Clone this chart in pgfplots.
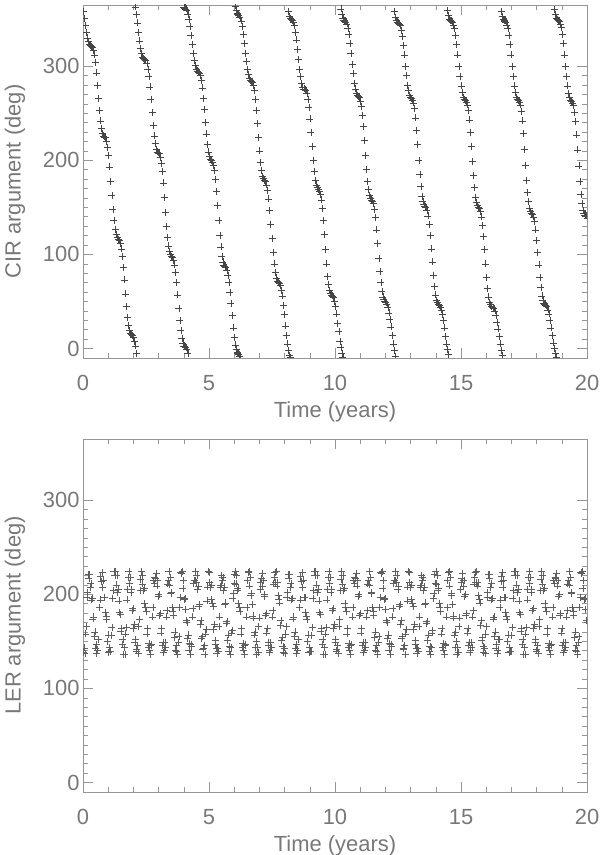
\documentclass[border=0pt]{standalone}
\usepackage{pgfplots}
\pgfplotsset{compat=1.18}
\usepackage{fontspec}
\setmainfont{Liberation Sans}
\definecolor{axgray}{RGB}{150,150,150}
\definecolor{txtgray}{RGB}{120,120,120}
\definecolor{mk}{RGB}{70,70,70}
\definecolor{mkb}{RGB}{95,95,95}
\pgfplotsset{
  idl/.style={
    scale only axis, width=504bp, height=353bp,
    xmin=0, xmax=20, ymin=-10, ymax=365,
    xtick={0,5,10,15,20}, ytick={0,100,200,300},
    minor x tick num=4, minor y tick num=9,
    tick align=inside,
    major tick length=10bp, minor tick length=5bp,
    axis line style={axgray, line width=0.6bp},
    tick style={axgray, line width=0.6bp},
    tick label style={font=\fontsize{22}{26}\selectfont, text=txtgray},
    xlabel={Time (years)},
    every axis x label/.style={at={(axis description cs:0.5,-0.152)}, anchor=center, inner sep=1bp, font=\fontsize{22}{26}\selectfont, text=txtgray},
    every axis y label/.style={at={(axis description cs:-0.135,0.5)}, rotate=90, anchor=center, font=\fontsize{22}{26}\selectfont, text=txtgray},
    xticklabel style={yshift=-14bp},
    clip marker paths=true,
    /pgf/number format/assume math mode=true,
    scaled ticks=false,
  },
  pts/.style={only marks, mark=+, mark size=3.5bp, mark options={mk, line width=0.5bp}},
  ptsb/.style={only marks, mark=+, mark size=3.5bp, mark options={mkb, line width=0.5bp}},
}
\begin{document}
\begin{tikzpicture}
\useasboundingbox (0,0) rectangle (600bp,855bp);
\begin{axis}[idl, at={(83bp,497bp)}, anchor=south west, ylabel={CIR argument (deg)}]
\addplot[pts] table[row sep=\\] {
t v\\
0.00 358\\ 0.04 351\\ 0.09 343\\ 0.13 336\\ 0.17 330\\ 0.21 326\\ 0.25 323\\ 0.29 322\\
0.33 321\\ 0.37 320\\ 0.41 317\\ 0.45 312\\ 0.49 304\\ 0.53 293\\ 0.57 280\\ 0.62 266\\ 0.66 253\\ 0.70 242\\ 0.74 234\\ 0.78 229\\ 0.82 226\\
0.86 225\\ 0.90 224\\ 0.94 220\\ 0.98 214\\ 1.02 205\\ 1.06 193\\ 1.10 178\\ 1.15 163\\ 1.19 148\\ 1.23 136\\ 1.27 127\\ 1.31 121\\ 1.35 118\\
1.39 116\\ 1.43 115\\ 1.47 112\\ 1.51 106\\ 1.55 98\\ 1.59 86\\ 1.63 73\\ 1.68 58\\ 1.72 45\\ 1.76 33\\ 1.80 25\\ 1.84 19\\ 1.88 16\\
1.92 15\\ 1.96 14\\ 2.00 12\\ 2.04 8\\ 2.08 3\\ 2.08 363\\ 2.12 -5\\ 2.12 355\\ 2.16 346\\ 2.21 336\\ 2.25 327\\ 2.29 319\\ 2.33 314\\ 2.37 310\\ 2.41 308\\
2.45 307\\ 2.49 306\\ 2.53 303\\ 2.57 297\\ 2.61 289\\ 2.65 278\\ 2.69 265\\ 2.74 251\\ 2.78 237\\ 2.82 226\\ 2.86 218\\ 2.90 212\\ 2.94 209\\
2.98 208\\ 3.02 207\\ 3.06 203\\ 3.10 197\\ 3.14 188\\ 3.18 176\\ 3.22 161\\ 3.27 145\\ 3.31 130\\ 3.35 118\\ 3.39 109\\ 3.43 103\\ 3.47 100\\
3.51 98\\ 3.55 97\\ 3.59 94\\ 3.63 89\\ 3.67 81\\ 3.71 70\\ 3.75 57\\ 3.80 43\\ 3.84 30\\ 3.88 19\\ 3.92 11\\ 3.96 6\\ 4.00 3\\ 4.00 363\\
4.04 2\\ 4.04 362\\ 4.08 1\\ 4.08 361\\ 4.12 -1\\ 4.12 359\\ 4.16 -5\\ 4.16 355\\ 4.20 350\\ 4.24 342\\ 4.28 333\\ 4.33 323\\ 4.37 314\\ 4.41 306\\ 4.45 301\\ 4.49 297\\ 4.53 295\\
4.57 294\\ 4.61 293\\ 4.65 290\\ 4.69 285\\ 4.73 277\\ 4.77 266\\ 4.81 254\\ 4.86 240\\ 4.90 228\\ 4.94 217\\ 4.98 209\\ 5.02 204\\ 5.06 201\\
5.10 200\\ 5.14 198\\ 5.18 195\\ 5.22 189\\ 5.26 180\\ 5.30 167\\ 5.34 152\\ 5.39 136\\ 5.43 120\\ 5.47 108\\ 5.51 98\\ 5.55 92\\ 5.59 89\\
5.63 87\\ 5.67 86\\ 5.71 83\\ 5.75 78\\ 5.79 70\\ 5.83 60\\ 5.87 48\\ 5.92 35\\ 5.96 22\\ 6.00 12\\ 6.04 4\\ 6.04 364\\ 6.08 -1\\ 6.08 359\\ 6.12 -4\\ 6.12 356\\
6.15 -5\\ 6.15 355\\ 6.19 -6\\ 6.19 354\\ 6.23 -8\\ 6.23 352\\ 6.27 348\\ 6.31 342\\ 6.35 334\\ 6.39 324\\ 6.44 314\\ 6.48 305\\ 6.52 297\\ 6.56 291\\ 6.60 287\\ 6.64 285\\
6.68 284\\ 6.72 283\\ 6.76 280\\ 6.80 274\\ 6.84 265\\ 6.88 253\\ 6.92 239\\ 6.97 224\\ 7.01 210\\ 7.05 198\\ 7.09 189\\ 7.13 183\\ 7.17 181\\
7.21 179\\ 7.25 178\\ 7.29 174\\ 7.33 168\\ 7.37 159\\ 7.41 147\\ 7.45 132\\ 7.50 117\\ 7.54 102\\ 7.58 90\\ 7.62 81\\ 7.66 75\\ 7.70 72\\
7.74 70\\ 7.78 69\\ 7.82 67\\ 7.86 62\\ 7.90 56\\ 7.94 46\\ 7.98 36\\ 8.03 24\\ 8.07 14\\ 8.11 5\\ 8.15 -2\\ 8.15 358\\ 8.19 -7\\ 8.19 353\\ 8.23 -9\\ 8.23 351\\
8.27 350\\ 8.31 349\\ 8.35 347\\ 8.39 343\\ 8.43 336\\ 8.47 328\\ 8.51 318\\ 8.56 307\\ 8.60 297\\ 8.64 289\\ 8.68 282\\ 8.72 278\\ 8.76 276\\
8.80 275\\ 8.84 274\\ 8.88 271\\ 8.92 265\\ 8.96 256\\ 9.00 244\\ 9.04 230\\ 9.09 215\\ 9.13 200\\ 9.17 188\\ 9.21 179\\ 9.25 174\\ 9.29 171\\
9.33 169\\ 9.37 167\\ 9.41 164\\ 9.45 158\\ 9.49 149\\ 9.53 136\\ 9.57 121\\ 9.62 105\\ 9.66 90\\ 9.70 77\\ 9.74 68\\ 9.78 62\\ 9.82 59\\
9.86 57\\ 9.90 56\\ 9.94 54\\ 9.98 50\\ 10.02 45\\ 10.06 37\\ 10.10 27\\ 10.15 18\\ 10.19 8\\ 10.23 1\\ 10.23 361\\ 10.27 -5\\ 10.27 355\\ 10.31 -9\\ 10.31 351\\ 10.35 349\\
10.39 348\\ 10.43 347\\ 10.47 345\\ 10.51 340\\ 10.55 334\\ 10.59 324\\ 10.63 314\\ 10.68 302\\ 10.72 292\\ 10.76 282\\ 10.80 276\\ 10.84 271\\ 10.88 269\\
10.92 268\\ 10.96 267\\ 11.00 263\\ 11.04 257\\ 11.08 248\\ 11.12 236\\ 11.16 221\\ 11.21 205\\ 11.25 190\\ 11.29 178\\ 11.33 169\\ 11.37 163\\ 11.41 160\\
11.45 158\\ 11.49 157\\ 11.53 154\\ 11.57 148\\ 11.61 139\\ 11.65 126\\ 11.69 112\\ 11.74 96\\ 11.78 82\\ 11.82 70\\ 11.86 61\\ 11.90 55\\ 11.94 52\\
11.98 50\\ 12.02 49\\ 12.06 47\\ 12.10 44\\ 12.14 38\\ 12.18 31\\ 12.22 23\\ 12.27 14\\ 12.31 5\\ 12.35 -2\\ 12.35 358\\ 12.39 -8\\ 12.39 352\\ 12.43 349\\ 12.47 347\\
12.51 346\\ 12.55 345\\ 12.59 343\\ 12.63 338\\ 12.67 332\\ 12.71 322\\ 12.75 312\\ 12.80 300\\ 12.84 290\\ 12.88 280\\ 12.92 274\\ 12.96 269\\ 13.00 267\\
13.04 266\\ 13.08 264\\ 13.12 261\\ 13.16 255\\ 13.20 245\\ 13.24 232\\ 13.28 217\\ 13.33 200\\ 13.37 185\\ 13.41 172\\ 13.45 162\\ 13.49 156\\ 13.53 153\\
13.57 151\\ 13.61 150\\ 13.65 147\\ 13.69 141\\ 13.73 132\\ 13.77 120\\ 13.81 106\\ 13.86 92\\ 13.90 78\\ 13.94 66\\ 13.98 57\\ 14.02 51\\ 14.06 49\\
14.10 47\\ 14.14 46\\ 14.18 44\\ 14.22 41\\ 14.26 36\\ 14.30 30\\ 14.34 22\\ 14.39 13\\ 14.43 5\\ 14.47 -1\\ 14.47 359\\ 14.51 -6\\ 14.51 354\\ 14.55 350\\ 14.59 349\\
14.63 348\\ 14.67 347\\ 14.71 344\\ 14.75 340\\ 14.79 333\\ 14.83 323\\ 14.87 312\\ 14.92 300\\ 14.96 289\\ 15.00 279\\ 15.04 272\\ 15.08 267\\ 15.12 265\\
15.16 264\\ 15.20 262\\ 15.24 259\\ 15.28 253\\ 15.32 243\\ 15.36 230\\ 15.40 215\\ 15.45 199\\ 15.49 184\\ 15.53 171\\ 15.57 161\\ 15.61 155\\ 15.65 152\\
15.69 150\\ 15.73 149\\ 15.77 146\\ 15.81 140\\ 15.85 131\\ 15.89 119\\ 15.93 105\\ 15.98 90\\ 16.02 76\\ 16.06 64\\ 16.10 55\\ 16.14 49\\ 16.18 47\\
16.22 45\\ 16.26 44\\ 16.30 43\\ 16.34 40\\ 16.38 35\\ 16.42 28\\ 16.46 21\\ 16.51 13\\ 16.55 5\\ 16.59 -2\\ 16.59 358\\ 16.63 -7\\ 16.63 353\\ 16.67 350\\ 16.71 349\\
16.74 348\\ 16.78 347\\ 16.82 344\\ 16.86 340\\ 16.90 333\\ 16.94 323\\ 16.98 312\\ 17.03 300\\ 17.07 289\\ 17.11 279\\ 17.15 272\\ 17.19 267\\ 17.23 265\\
17.27 264\\ 17.31 262\\ 17.35 259\\ 17.39 252\\ 17.43 242\\ 17.47 229\\ 17.51 212\\ 17.56 195\\ 17.60 179\\ 17.64 166\\ 17.68 156\\ 17.72 149\\ 17.76 146\\
17.80 144\\ 17.84 143\\ 17.88 140\\ 17.92 135\\ 17.96 126\\ 18.00 115\\ 18.04 102\\ 18.09 89\\ 18.13 76\\ 18.17 65\\ 18.21 56\\ 18.25 51\\ 18.29 48\\
18.33 47\\ 18.37 46\\ 18.41 45\\ 18.45 41\\ 18.49 37\\ 18.53 30\\ 18.57 22\\ 18.62 14\\ 18.66 6\\ 18.70 0\\ 18.70 360\\ 18.74 -5\\ 18.74 355\\ 18.78 -9\\ 18.78 351\\ 18.82 350\\
18.86 349\\ 18.90 348\\ 18.94 345\\ 18.98 341\\ 19.02 334\\ 19.06 324\\ 19.10 312\\ 19.15 300\\ 19.19 289\\ 19.23 279\\ 19.27 271\\ 19.31 267\\ 19.35 264\\
19.39 263\\ 19.43 261\\ 19.47 258\\ 19.51 251\\ 19.55 241\\ 19.59 227\\ 19.63 211\\ 19.68 194\\ 19.72 178\\ 19.76 164\\ 19.80 154\\ 19.84 147\\ 19.88 144\\
19.92 142\\ 19.96 141\\ 20.00 138\\
};
\end{axis}
\begin{axis}[idl, at={(83bp,63bp)}, anchor=south west, ylabel={LER argument (deg)}]
\addplot[ptsb] table[row sep=\\] {
t v\\
0.01 138\\ 0.04 143\\ 0.07 137\\ 0.09 158\\ 0.12 166\\ 0.15 197\\ 0.17 202\\
0.20 221\\ 0.23 217\\ 0.25 221\\ 0.28 207\\ 0.31 212\\ 0.33 194\\ 0.36 196\\ 0.39 174\\ 0.41 176\\ 0.44 155\\ 0.47 160\\ 0.49 143\\ 0.52 147\\ 0.54 137\\ 0.57 141\\ 0.60 152\\ 0.62 152\\ 0.65 186\\ 0.68 194\\ 0.70 219\\
0.73 214\\ 0.76 223\\ 0.78 207\\ 0.81 215\\ 0.84 197\\ 0.86 197\\ 0.89 181\\ 0.92 177\\ 0.94 173\\ 0.97 150\\ 1.00 157\\ 1.02 138\\ 1.05 144\\ 1.07 139\\ 1.10 139\\ 1.13 156\\ 1.15 165\\ 1.18 196\\ 1.21 204\\ 1.23 224\\
1.26 220\\ 1.29 224\\ 1.31 210\\ 1.34 220\\ 1.37 202\\ 1.39 205\\ 1.42 193\\ 1.45 181\\ 1.47 179\\ 1.50 161\\ 1.53 164\\ 1.55 147\\ 1.58 152\\ 1.60 136\\ 1.63 144\\ 1.66 136\\ 1.68 158\\ 1.71 165\\ 1.74 194\\ 1.76 205\\
1.79 218\\ 1.82 224\\ 1.84 212\\ 1.87 218\\ 1.90 202\\ 1.92 205\\ 1.95 183\\ 1.98 185\\ 2.00 164\\ 2.03 168\\ 2.06 149\\ 2.08 152\\ 2.11 140\\ 2.13 142\\ 2.16 146\\ 2.19 137\\ 2.21 166\\ 2.24 173\\ 2.27 204\\ 2.29 216\\
2.32 224\\ 2.35 211\\ 2.37 220\\ 2.40 204\\ 2.43 206\\ 2.45 190\\ 2.48 186\\ 2.51 182\\ 2.53 158\\ 2.56 164\\ 2.59 144\\ 2.61 148\\ 2.64 141\\ 2.66 136\\ 2.69 146\\ 2.72 147\\ 2.74 176\\ 2.77 186\\ 2.80 215\\ 2.82 212\\
2.85 218\\ 2.88 217\\ 2.90 222\\ 2.93 209\\ 2.96 215\\ 2.98 198\\ 3.01 200\\ 3.04 178\\ 3.06 180\\ 3.09 159\\ 3.12 164\\ 3.14 146\\ 3.17 149\\ 3.19 138\\ 3.22 141\\ 3.25 149\\ 3.27 144\\ 3.30 176\\ 3.33 183\\ 3.35 211\\
3.38 215\\ 3.41 224\\ 3.43 210\\ 3.46 218\\ 3.49 201\\ 3.51 202\\ 3.54 186\\ 3.57 182\\ 3.59 178\\ 3.62 154\\ 3.65 160\\ 3.67 141\\ 3.70 146\\ 3.72 140\\ 3.75 136\\ 3.78 149\\ 3.80 155\\ 3.83 186\\ 3.86 197\\ 3.88 223\\
3.91 222\\ 3.94 224\\ 3.96 206\\ 3.99 215\\ 4.02 195\\ 4.04 196\\ 4.07 184\\ 4.10 172\\ 4.12 170\\ 4.15 153\\ 4.18 157\\ 4.20 141\\ 4.23 148\\ 4.25 136\\ 4.28 147\\ 4.31 145\\ 4.33 176\\ 4.36 185\\ 4.39 212\\ 4.41 215\\
4.44 215\\ 4.47 224\\ 4.49 213\\ 4.52 220\\ 4.55 205\\ 4.57 209\\ 4.60 187\\ 4.63 189\\ 4.65 168\\ 4.68 172\\ 4.71 153\\ 4.73 155\\ 4.76 142\\ 4.78 143\\ 4.81 146\\ 4.84 136\\ 4.86 158\\ 4.89 163\\ 4.92 193\\ 4.94 208\\
4.97 224\\ 5.00 213\\ 5.02 223\\ 5.05 207\\ 5.08 210\\ 5.10 195\\ 5.13 191\\ 5.16 187\\ 5.18 163\\ 5.21 168\\ 5.24 147\\ 5.26 151\\ 5.29 143\\ 5.31 137\\ 5.34 143\\ 5.37 140\\ 5.39 166\\ 5.42 176\\ 5.45 208\\ 5.47 210\\
5.50 220\\ 5.53 215\\ 5.55 218\\ 5.58 204\\ 5.61 208\\ 5.63 189\\ 5.66 191\\ 5.69 169\\ 5.71 171\\ 5.74 151\\ 5.77 157\\ 5.79 140\\ 5.82 145\\ 5.84 136\\ 5.87 144\\ 5.90 159\\ 5.92 162\\ 5.95 196\\ 5.98 201\\ 6.00 221\\
6.02 212\\ 6.05 224\\ 6.07 211\\ 6.10 220\\ 6.13 204\\ 6.15 206\\ 6.18 190\\ 6.21 186\\ 6.23 182\\ 6.26 158\\ 6.29 164\\ 6.31 144\\ 6.34 148\\ 6.36 141\\ 6.39 136\\ 6.42 146\\ 6.44 147\\ 6.47 176\\ 6.50 186\\ 6.52 215\\
6.55 223\\ 6.58 224\\ 6.60 209\\ 6.63 218\\ 6.66 199\\ 6.68 201\\ 6.71 189\\ 6.74 177\\ 6.76 175\\ 6.79 157\\ 6.82 160\\ 6.84 144\\ 6.87 150\\ 6.89 136\\ 6.92 144\\ 6.95 138\\ 6.97 166\\ 7.00 175\\ 7.03 205\\ 7.05 213\\
7.08 217\\ 7.11 222\\ 7.13 209\\ 7.16 215\\ 7.19 198\\ 7.21 200\\ 7.24 178\\ 7.27 180\\ 7.29 159\\ 7.32 164\\ 7.35 146\\ 7.37 149\\ 7.40 138\\ 7.42 141\\ 7.45 149\\ 7.48 144\\ 7.50 176\\ 7.53 183\\ 7.56 211\\ 7.58 218\\
7.61 223\\ 7.64 213\\ 7.66 224\\ 7.69 209\\ 7.72 213\\ 7.74 199\\ 7.77 195\\ 7.80 191\\ 7.82 167\\ 7.85 172\\ 7.88 151\\ 7.90 154\\ 7.93 145\\ 7.95 138\\ 7.98 143\\ 8.01 137\\ 8.03 158\\ 8.06 166\\ 8.09 197\\ 8.11 202\\
8.14 221\\ 8.17 217\\ 8.19 221\\ 8.22 207\\ 8.25 212\\ 8.27 194\\ 8.30 196\\ 8.33 174\\ 8.35 176\\ 8.38 155\\ 8.41 160\\ 8.43 143\\ 8.46 147\\ 8.48 137\\ 8.51 141\\ 8.54 152\\ 8.56 152\\ 8.59 186\\ 8.62 194\\ 8.64 219\\
8.67 214\\ 8.70 223\\ 8.72 207\\ 8.75 215\\ 8.78 197\\ 8.80 197\\ 8.83 181\\ 8.86 177\\ 8.88 173\\ 8.91 150\\ 8.94 157\\ 8.96 138\\ 8.99 144\\ 9.01 139\\ 9.04 139\\ 9.07 156\\ 9.09 165\\ 9.12 196\\ 9.15 204\\ 9.17 224\\
9.20 220\\ 9.23 224\\ 9.25 210\\ 9.28 220\\ 9.31 202\\ 9.33 205\\ 9.36 193\\ 9.39 181\\ 9.41 179\\ 9.44 161\\ 9.47 164\\ 9.49 147\\ 9.52 152\\ 9.54 136\\ 9.57 144\\ 9.60 136\\ 9.62 158\\ 9.65 165\\ 9.68 194\\ 9.70 205\\
9.73 218\\ 9.76 224\\ 9.78 212\\ 9.81 218\\ 9.84 202\\ 9.86 205\\ 9.89 183\\ 9.92 185\\ 9.94 164\\ 9.97 168\\ 10.00 149\\ 10.02 152\\ 10.05 140\\ 10.07 142\\ 10.10 146\\ 10.13 137\\ 10.15 166\\ 10.18 173\\ 10.21 204\\ 10.23 216\\
10.26 224\\ 10.29 211\\ 10.31 220\\ 10.34 204\\ 10.37 206\\ 10.39 190\\ 10.42 186\\ 10.45 182\\ 10.47 158\\ 10.50 164\\ 10.53 144\\ 10.55 148\\ 10.58 141\\ 10.60 136\\ 10.63 146\\ 10.66 147\\ 10.68 176\\ 10.71 186\\ 10.74 215\\ 10.76 212\\
10.79 218\\ 10.82 217\\ 10.84 222\\ 10.87 209\\ 10.90 215\\ 10.92 198\\ 10.95 200\\ 10.98 178\\ 11.00 180\\ 11.03 159\\ 11.06 164\\ 11.08 146\\ 11.11 149\\ 11.13 138\\ 11.16 141\\ 11.19 149\\ 11.21 144\\ 11.24 176\\ 11.27 183\\ 11.29 211\\
11.32 215\\ 11.35 224\\ 11.37 210\\ 11.40 218\\ 11.43 201\\ 11.45 202\\ 11.48 186\\ 11.51 182\\ 11.53 178\\ 11.56 154\\ 11.59 160\\ 11.61 141\\ 11.64 146\\ 11.66 140\\ 11.69 136\\ 11.72 149\\ 11.74 155\\ 11.77 186\\ 11.80 197\\ 11.82 223\\
11.85 222\\ 11.88 224\\ 11.90 206\\ 11.93 215\\ 11.96 195\\ 11.98 196\\ 12.01 184\\ 12.04 172\\ 12.06 170\\ 12.09 153\\ 12.12 157\\ 12.14 141\\ 12.17 148\\ 12.19 136\\ 12.22 147\\ 12.25 145\\ 12.27 176\\ 12.30 185\\ 12.33 212\\ 12.35 215\\
12.38 215\\ 12.41 224\\ 12.43 213\\ 12.46 220\\ 12.49 205\\ 12.51 209\\ 12.54 187\\ 12.57 189\\ 12.59 168\\ 12.62 172\\ 12.65 153\\ 12.67 155\\ 12.70 142\\ 12.72 143\\ 12.75 146\\ 12.78 136\\ 12.80 158\\ 12.83 163\\ 12.86 193\\ 12.88 208\\
12.91 224\\ 12.94 213\\ 12.96 223\\ 12.99 207\\ 13.02 210\\ 13.04 195\\ 13.07 191\\ 13.10 187\\ 13.12 163\\ 13.15 168\\ 13.18 147\\ 13.20 151\\ 13.23 143\\ 13.25 137\\ 13.28 143\\ 13.31 140\\ 13.33 166\\ 13.36 176\\ 13.39 208\\ 13.41 210\\
13.44 220\\ 13.47 215\\ 13.49 218\\ 13.52 204\\ 13.55 208\\ 13.57 189\\ 13.60 191\\ 13.63 169\\ 13.65 171\\ 13.68 151\\ 13.71 157\\ 13.73 140\\ 13.76 145\\ 13.78 136\\ 13.81 144\\ 13.84 159\\ 13.86 162\\ 13.89 196\\ 13.92 201\\ 13.94 221\\
13.97 212\\ 14.00 224\\ 14.02 211\\ 14.05 220\\ 14.08 204\\ 14.10 206\\ 14.13 190\\ 14.16 186\\ 14.18 182\\ 14.21 158\\ 14.24 164\\ 14.26 144\\ 14.29 148\\ 14.31 141\\ 14.34 136\\ 14.37 146\\ 14.39 147\\ 14.42 176\\ 14.45 186\\ 14.47 215\\
14.50 223\\ 14.53 224\\ 14.55 209\\ 14.58 218\\ 14.61 199\\ 14.63 201\\ 14.66 189\\ 14.69 177\\ 14.71 175\\ 14.74 157\\ 14.77 160\\ 14.79 144\\ 14.82 150\\ 14.84 136\\ 14.87 144\\ 14.90 138\\ 14.92 166\\ 14.95 175\\ 14.98 205\\ 15.00 213\\
15.03 217\\ 15.06 222\\ 15.08 209\\ 15.11 215\\ 15.14 198\\ 15.16 200\\ 15.19 178\\ 15.22 180\\ 15.24 159\\ 15.27 164\\ 15.30 146\\ 15.32 149\\ 15.35 138\\ 15.37 141\\ 15.40 149\\ 15.43 144\\ 15.45 176\\ 15.48 183\\ 15.51 211\\ 15.53 218\\
15.56 223\\ 15.59 213\\ 15.61 224\\ 15.64 209\\ 15.67 213\\ 15.69 199\\ 15.72 195\\ 15.75 191\\ 15.77 167\\ 15.80 172\\ 15.83 151\\ 15.85 154\\ 15.88 145\\ 15.90 138\\ 15.93 143\\ 15.96 137\\ 15.98 158\\ 16.01 166\\ 16.04 197\\ 16.06 202\\
16.09 221\\ 16.12 217\\ 16.14 221\\ 16.17 207\\ 16.20 212\\ 16.22 194\\ 16.25 196\\ 16.28 174\\ 16.30 176\\ 16.33 155\\ 16.36 160\\ 16.38 143\\ 16.41 147\\ 16.43 137\\ 16.46 141\\ 16.49 152\\ 16.51 152\\ 16.54 186\\ 16.57 194\\ 16.59 219\\
16.61 214\\ 16.64 223\\ 16.66 207\\ 16.69 215\\ 16.72 197\\ 16.74 197\\ 16.77 181\\ 16.80 177\\ 16.82 173\\ 16.85 150\\ 16.88 157\\ 16.90 138\\ 16.93 144\\ 16.95 139\\ 16.98 139\\ 17.01 156\\ 17.03 165\\ 17.06 196\\ 17.09 204\\ 17.11 224\\
17.14 220\\ 17.17 224\\ 17.19 210\\ 17.22 220\\ 17.25 202\\ 17.27 205\\ 17.30 193\\ 17.33 181\\ 17.35 179\\ 17.38 161\\ 17.41 164\\ 17.43 147\\ 17.46 152\\ 17.48 136\\ 17.51 144\\ 17.54 136\\ 17.56 158\\ 17.59 165\\ 17.62 194\\ 17.64 205\\
17.67 218\\ 17.70 224\\ 17.72 212\\ 17.75 218\\ 17.78 202\\ 17.80 205\\ 17.83 183\\ 17.86 185\\ 17.88 164\\ 17.91 168\\ 17.94 149\\ 17.96 152\\ 17.99 140\\ 18.01 142\\ 18.04 146\\ 18.07 137\\ 18.09 166\\ 18.12 173\\ 18.15 204\\ 18.17 216\\
18.20 224\\ 18.23 211\\ 18.25 220\\ 18.28 204\\ 18.31 206\\ 18.33 190\\ 18.36 186\\ 18.39 182\\ 18.41 158\\ 18.44 164\\ 18.47 144\\ 18.49 148\\ 18.52 141\\ 18.54 136\\ 18.57 146\\ 18.60 147\\ 18.62 176\\ 18.65 186\\ 18.68 215\\ 18.70 212\\
18.73 218\\ 18.76 217\\ 18.78 222\\ 18.81 209\\ 18.84 215\\ 18.86 198\\ 18.89 200\\ 18.92 178\\ 18.94 180\\ 18.97 159\\ 19.00 164\\ 19.02 146\\ 19.05 149\\ 19.07 138\\ 19.10 141\\ 19.13 149\\ 19.15 144\\ 19.18 176\\ 19.21 183\\ 19.23 211\\
19.26 215\\ 19.29 224\\ 19.31 210\\ 19.34 218\\ 19.37 201\\ 19.39 202\\ 19.42 186\\ 19.45 182\\ 19.47 178\\ 19.50 154\\ 19.53 160\\ 19.55 141\\ 19.58 146\\ 19.60 140\\ 19.63 136\\ 19.66 149\\ 19.68 155\\ 19.71 186\\ 19.74 197\\ 19.76 223\\
19.79 222\\ 19.82 224\\ 19.84 206\\ 19.87 215\\ 19.90 195\\ 19.92 196\\ 19.95 184\\ 19.98 172\\ 20.00 170\\
};
\end{axis}
\end{tikzpicture}
\end{document}
